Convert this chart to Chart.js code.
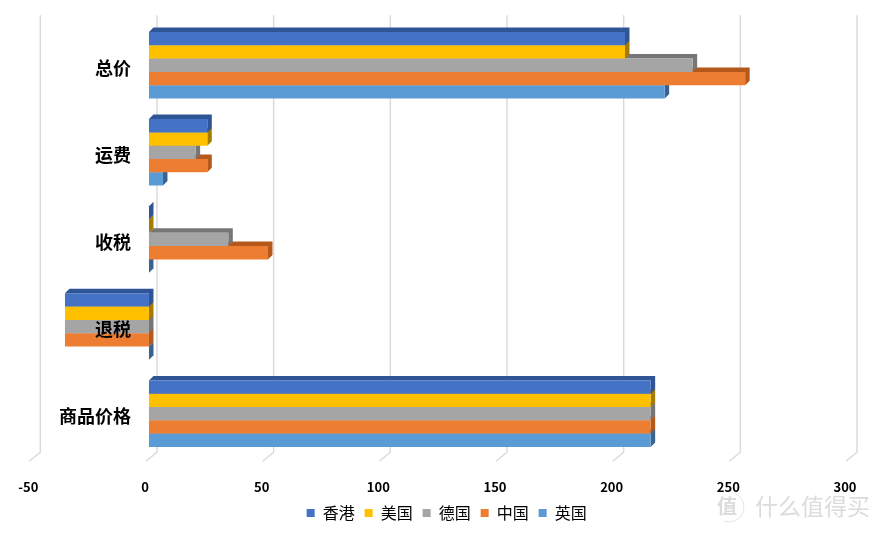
<!DOCTYPE html>
<html>
<head>
<meta charset="utf-8">
<script src="https://cdn.jsdelivr.net/npm/chart.js@4/dist/chart.umd.min.js"></script>
<style>
  html, body { margin: 0; padding: 0; background: #fff; }
  canvas { display: block; }
</style>
</head>
<body>
<canvas id="chart" width="881" height="533"></canvas>
<script>
const categories = ["总价", "运费", "收税", "退税", "商品价格"];
const hongKong = [204, 25, 0, -36, 215];
const usa = [204, 25, 0, -36, 215];
const germany = [233, 20, 34, -36, 215];
const china = [255.5, 25, 51, -36, 215];
const uk = [221, 6, 0, 0, 215];
const xMin = -50;
const xMax = 300;
const xStep = 50;

const FONT = '"Noto Sans CJK SC", "Noto Sans", sans-serif';
const DEPTH = 4.5;
const BACK_X = 8;

function series(label, data, color, dark) {
  return { label, data, backgroundColor: color, dark, borderWidth: 0 };
}

// gridlines sit on the back wall, the bars are on the front plane
const backWall = {
  id: "backWall",
  beforeDatasetsDraw(chart) {
    const { ctx, scales, chartArea } = chart;
    ctx.save();
    ctx.strokeStyle = "#d9d9d9";
    ctx.lineWidth = 1.4;
    scales.x.ticks.forEach((t) => {
      const x = scales.x.getPixelForValue(t.value) + BACK_X;
      ctx.beginPath();
      ctx.moveTo(x, chartArea.top - 6.5);
      ctx.lineTo(x, chartArea.bottom - 5);
      ctx.lineTo(x - 11, chartArea.bottom + 4);
      ctx.stroke();
    });
    ctx.restore();
  },
};

// top and end faces of each bar, lower series first so upper ones cover them
const barDepth = {
  id: "barDepth",
  beforeDatasetsDraw(chart) {
    const { ctx } = chart;
    ctx.save();
    for (let i = chart.data.datasets.length - 1; i >= 0; i--) {
      ctx.fillStyle = chart.data.datasets[i].dark;
      chart.getDatasetMeta(i).data.forEach((bar) => {
        const left = Math.min(bar.x, bar.base);
        const right = Math.max(bar.x, bar.base);
        const top = bar.y - bar.height / 2;
        const bottom = bar.y + bar.height / 2;
        ctx.beginPath();
        ctx.moveTo(left, top);
        ctx.lineTo(left + DEPTH, top - DEPTH);
        ctx.lineTo(right + DEPTH, top - DEPTH);
        ctx.lineTo(right + DEPTH, bottom - DEPTH);
        ctx.lineTo(right, bottom);
        ctx.lineTo(right, top);
        ctx.closePath();
        ctx.fill();
      });
    }
    ctx.restore();
  },
};

const legendShift = {
  id: "legendShift",
  afterLayout(chart) {
    chart.legend.left += 6;
    chart.legend.right += 6;
  },
};

const watermark = {
  id: "watermark",
  afterDraw(chart) {
    const { ctx } = chart;
    ctx.save();
    ctx.fillStyle = "#dcdcdc";
    ctx.strokeStyle = "#e4e4e4";
    ctx.textBaseline = "middle";
    ctx.font = "bold 20px " + FONT;
    ctx.fillText("值", 717, 506);
    ctx.beginPath();
    ctx.arc(729, 507, 15, -1.2, 1.9);
    ctx.stroke();
    ctx.font = "23px " + FONT;
    ctx.fillText("什么值得买", 755, 506);
    ctx.restore();
  },
};

new Chart(document.getElementById("chart"), {
  type: "bar",
  data: {
    labels: categories,
    datasets: [
      series("香港", hongKong, "#4472c4", "#2f5597"),
      series("美国", usa, "#ffc000", "#a67c00"),
      series("德国", germany, "#a5a5a5", "#767676"),
      series("中国", china, "#ed7d31", "#b4581c"),
      series("英国", uk, "#5b9bd5", "#38648f"),
    ],
  },
  plugins: [backWall, barDepth, legendShift, watermark],
  options: {
    indexAxis: "y",
    responsive: false,
    animation: false,
    devicePixelRatio: 1,
    categoryPercentage: 0.763,
    barPercentage: 1,
    layout: { padding: { left: 32.3, right: 32, top: 21.7, bottom: 2 } },
    scales: {
      x: {
        min: xMin,
        max: xMax,
        grid: { display: false },
        border: { display: false },
        afterFit(scale) {
          scale.height = 37.8;
        },
        ticks: {
          stepSize: xStep,
          padding: 14,
          labelOffset: -4,
          maxRotation: 0,
          color: "#000",
          font: { family: FONT, size: 13, weight: "bold" },
        },
      },
      y: {
        // labels end a little left of the zero line and stay above the bars
        position: { x: -7.7 },
        grid: { display: false },
        border: { display: false },
        afterFit(scale) {
          scale.paddingTop = 0;
          scale.paddingBottom = 0;
        },
        ticks: {
          z: 1,
          labelOffset: 3,
          color: "#000",
          font: { family: FONT, size: 18, weight: "bold" },
        },
      },
    },
    plugins: {
      tooltip: { enabled: false },
      legend: {
        position: "bottom",
        labels: {
          boxWidth: 8,
          boxHeight: 8,
          padding: 10,
          color: "#000",
          font: { family: FONT, size: 16 },
        },
      },
    },
  },
});
</script>
</body>
</html>
